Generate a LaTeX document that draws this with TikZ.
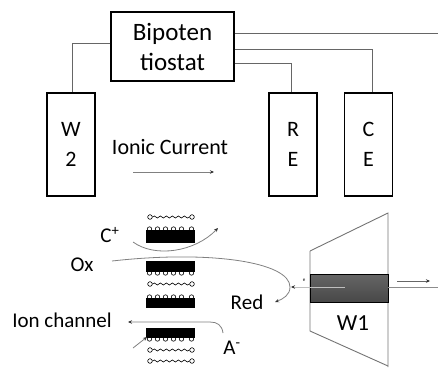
\documentclass[tikz,border=0pt]{standalone}
\usepackage{fontspec}
\setmainfont{Carlito}
\usetikzlibrary{arrows.meta,decorations.pathmorphing}
\begin{document}
\begin{tikzpicture}[x=1pt,y=-1pt,
  box/.style={draw=black,line width=1.1pt,fill=white,inner sep=0pt},
  elec/.style={box,minimum width=48pt,minimum height=103pt,align=center,
    font=\fontsize{22}{30}\selectfont},
  wire/.style={draw=black!60,line width=0.9pt},
  flow/.style={draw=black!50,line width=0.8pt,-{Stealth[length=4pt,width=3.5pt,black!80]}},
  lbl/.style={inner sep=0pt,font=\fontsize{21}{24}\selectfont},
  lipid/.style={draw=black,line width=0.6pt,fill=white},
  block/.style={fill=black}]
\useasboundingbox (0,0) rectangle (438,367);

% instrument and the three electrodes above the cell
\node[box,minimum width=123pt,minimum height=69pt,align=center,
  font=\fontsize{25}{30}\selectfont] (bip) at (172.5,46.5) {Bipoten\\tiostat};
\node[elec] (w2) at (71,144.5) {W\\2};
\node[elec] (re) at (293,144.5) {R\\E};
\node[elec] (ce) at (368.5,144.5) {C\\E};
\coordinate (wout) at (438,33);

\draw[wire] (bip.east |- 0,33) -- (wout);
\draw[wire] (bip.west |- 0,43) -| ([xshift=1pt]w2.north);
\draw[wire] (bip.east |- 0,49) -| ([xshift=3.5pt]ce.north);
\draw[wire] (bip.east |- 0,63) -| ([xshift=-2pt]re.north);

% ionic current
\node[lbl,font=\fontsize{22}{24}\selectfont] (ic) at (170,147) {Ionic Current};
\coordinate (ica) at (133,172);
\coordinate (icb) at (214,172);
\draw[flow] (ica) -- (icb);

% membrane: lipid strands and blocks with head groups
\newcommand{\strand}[1]{%
  \draw[line width=0.6pt,decorate,decoration={snake,amplitude=1pt,segment length=6pt}]
    (152.5,#1) -- (189.5,#1);
  \draw[lipid] (150,#1) circle (2.3pt);
  \draw[lipid] (192,#1) circle (2.3pt);}
\newcommand{\headrow}[1]{%
  \foreach \hx in {149.5,157.5,165.5,173.5,181.5,191.5}
    \draw[lipid] (\hx,#1) circle (2.2pt);}
\strand{217}
\headrow{229}
\fill[block] (146,230) rectangle (195,243);
\headrow{273}
\fill[block] (146,261) rectangle (195,272);
\strand{284}
\headrow{297}
\fill[block] (146,298) rectangle (195,308);
\headrow{339}
\fill[block] (146,328) rectangle (195,338);
\strand{350}
\strand{361}

% working electrode W1
\draw[draw=black!55,line width=0.9pt] (310,251) -- (388,213) -- (388,367);
\draw[draw=black!55,line width=0.9pt] (310,251) -- (310,331) -- (388,366);
\shade[top color=black!60,bottom color=black!72,draw=black,line width=0.8pt]
  (310,274) rectangle (388,302);
\draw[draw=black!25,line width=0.9pt] (345,287) -- (293,287);
\draw[-{Stealth[length=4pt,width=3.5pt,black!80]},draw=black!25,line width=0.9pt]
  (305,287) -- (291,287);
\node[inner sep=0pt,font=\fontsize{5}{5}\selectfont] (el) at (304,280) {e};
\node[lbl,font=\fontsize{23}{24}\selectfont] (w1) at (353,323) {W1};
\draw[draw=black!45,line width=0.9pt] (388,287) -- (438,287);
\draw[flow,draw=black!60] (397,281) -- (430,281);

% species crossing the membrane
\draw[flow] (133,242) .. controls (155,258) and (195,252) .. (218,228);
\draw[flow] (112,261) .. controls (210,250) and (290,262) .. (290,287)
  .. controls (290,295) and (283,299) .. (275,302);
\draw[flow] (223,333) .. controls (222,325) and (217,322) .. (210,322) -- (128,322);
\draw[flow] (133,348) -- (147,337);

\node[lbl] (cp) at (110,235) {C\textsuperscript{+}};
\node[lbl] (ox) at (82,265) {Ox};
\node[lbl] (ion) at (62,320) {Ion channel};
\node[lbl] (red) at (247,302) {Red};
\node[lbl] (am) at (232,348) {A\textsuperscript{-}};
\end{tikzpicture}
\end{document}
